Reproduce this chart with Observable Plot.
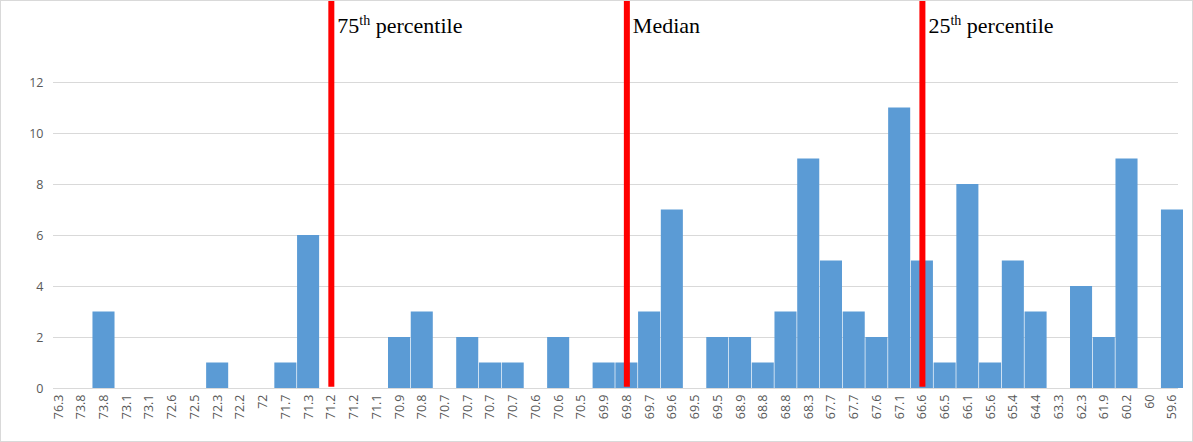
<!DOCTYPE html><html><head><meta charset="utf-8">
<script src="https://cdn.jsdelivr.net/npm/d3@7"></script>
<script src="https://cdn.jsdelivr.net/npm/@observablehq/plot@0.6"></script>
<style>body{margin:0;background:#fff}#c{position:relative;width:1193px;height:442px;box-sizing:border-box;border:1px solid #d9d9d9}</style>
</head><body><div id="c"></div><script>
const labels=["76.3","73.8","73.8","73.1","73.1","72.6","72.5","72.3","72.2","72","71.7","71.3","71.2","71.2","71.1","70.9","70.8","70.7","70.7","70.7","70.7","70.6","70.6","70.5","69.9","69.8","69.7","69.6","69.5","69.5","68.9","68.8","68.8","68.3","67.7","67.7","67.6","67.1","66.6","66.5","66.1","65.6","65.4","64.4","63.3","62.3","61.9","60.2","60","59.6"];
const counts=[0,0,3,0,0,0,0,1,0,0,1,6,0,0,0,2,3,0,2,1,1,0,2,0,1,1,3,7,0,2,2,1,3,9,5,3,2,11,5,1,8,1,5,3,0,4,2,9,0,7];
const markerIdx=[12,25,38];
const markerText=["75","Median","25"];
const markerSup=["th","","th"];
const data=counts.map((c,i)=>({i,c}));
const markers=markerIdx.map((i,k)=>({i,t:markerText[k],s:markerSup[k]}));
const chart=Plot.plot({width:1191,height:440,marginLeft:52,marginRight:14,marginTop:30,marginBottom:53,
 style:{fontFamily:"'Open Sans', 'Liberation Sans', sans-serif",fontSize:"12.5px",color:"#595959"},
 x:{type:"band",domain:d3.range(labels.length),range:[46,1182],paddingInner:0.03,paddingOuter:0,tickFormat:i=>labels[i],tickRotate:-90,tickSize:0,tickPadding:6,label:null},
 y:{domain:[0,14],ticks:[0,2,4,6,8,10,12],tickSize:0,tickPadding:10,label:null},
 marks:[
  Plot.gridY([2,4,6,8,10,12],{stroke:"#d9d9d9",strokeOpacity:1}),
  Plot.barY(data,{x:"i",y:"c",fill:"#5b9bd5"}),
  Plot.ruleY([0],{stroke:"#d9d9d9"}),
  Plot.ruleX(markers,{x:"i",y1:0.05,y2:15.3,stroke:"red",strokeWidth:6,clip:false}),
  Plot.text(markers,{x:"i",y:14.2,text:"t",textAnchor:"start",dx:6,fontFamily:"'Times New Roman','Liberation Serif',serif",fontSize:22,fill:"black",className:"mk"})
 ]});
document.getElementById("c").appendChild(chart);
d3.select(chart).selectAll("g.mk text").each(function(d,k){
 const m=markers[k]; if(!m.s) return;
 const t=d3.select(this); t.text(m.t);
 t.append("tspan").attr("font-size",14).attr("dy",-8).text(m.s);
 t.append("tspan").attr("dy",8).text(" percentile");
});
</script></body></html>
